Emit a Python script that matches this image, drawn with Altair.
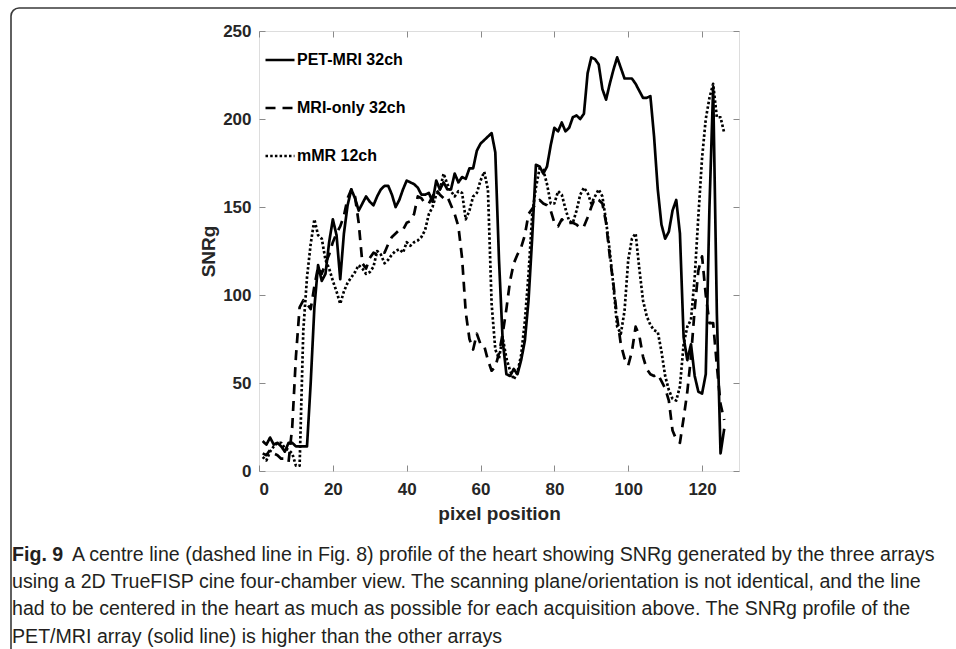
import altair as alt
import pandas as pd

# ---------------- data ----------------
x_pos = list(range(1, 127))

pet_mri_32ch = [17, 15, 19, 15, 16, 14, 11, 16, 16, 14,
                14, 14, 14, 50, 93, 117, 108, 112, 130, 143,
                134, 109, 135, 151, 160, 155, 148, 152, 156, 153,
                151, 156, 160, 162, 162, 157, 150, 154, 160, 165,
                164, 163, 161, 157, 157, 158, 153, 165, 160, 164,
                160, 160, 169, 164, 167, 166, 172, 172, 182, 186,
                188, 190, 192, 181, 120, 74, 55, 54, 58, 55,
                63, 74, 97, 133, 174, 173, 169, 173, 185, 195,
                193, 198, 193, 195, 201, 202, 200, 203, 226, 235,
                234, 231, 217, 211, 220, 228, 235, 229, 223, 223,
                223, 220, 216, 212, 212, 213, 190, 160, 140, 132,
                136, 148, 154, 135, 76, 63, 72, 54, 45, 44,
                55, 150, 218, 90, 10, 24]

mri_only_32ch = [10, 9, 12, 10, 9, 7, 7, 5, 25, 65,
                 93, 97, 95, 92, 105, 116, 112, 118, 123, 130,
                 135, 139, 145, 155, 160, 156, 141, 118, 115, 121,
                 124, 123, 124, 124, 129, 133, 135, 137, 137, 141,
                 142, 146, 156, 155, 152, 152, 156, 160, 157, 155,
                 156, 151, 146, 139, 121, 90, 75, 69, 78, 72,
                 71, 63, 57, 59, 67, 78, 92, 108, 118, 123,
                 127, 134, 146, 149, 152, 154, 152, 151, 148, 141,
                 139, 143, 141, 141, 141, 140, 138, 139, 144, 150,
                 155, 154, 152, 141, 122, 106, 87, 72, 64, 60,
                 68, 82, 77, 65, 58, 55, 54, 55, 51, 47,
                 40, 23, 18, 16, 30, 45, 65, 92, 114, 122,
                 100, 84, 84, 60, 38, 29]

mmr_12ch = [8, 6, 11, 14, 16, 16, 13, 12, 10, 3,
            3, 80, 110, 129, 143, 134, 132, 120, 115, 108,
            102, 95, 102, 107, 110, 113, 117, 115, 112, 113,
            116, 125, 123, 118, 120, 123, 125, 126, 124, 130,
            128, 130, 131, 133, 137, 146, 150, 157, 160, 169,
            163, 159, 156, 159, 158, 143, 148, 156, 158, 165,
            170, 160, 95, 69, 64, 76, 64, 57, 52, 56,
            66, 85, 112, 146, 161, 172, 171, 163, 152, 152,
            159, 157, 149, 142, 141, 148, 157, 161, 158, 152,
            156, 160, 156, 142, 125, 105, 82, 78, 91, 120,
            132, 135, 115, 97, 88, 83, 80, 79, 68, 54,
            46, 41, 40, 48, 72, 82, 86, 110, 145, 178,
            200, 212, 220, 201, 201, 192]

series_names = ["PET-MRI 32ch", "MRI-only 32ch", "mMR 12ch"]
x_ticks = [0, 20, 40, 60, 80, 100, 120]
y_ticks = [0, 50, 100, 150, 200, 250]

caption_bold = "Fig. 9"
caption_lines = [
    "\u200b" + "\u00a0" * 11 + "A centre line (dashed line in Fig. 8) profile of the heart showing SNRg generated by the three arrays",
    "using a 2D TrueFISP cine four-chamber view. The scanning plane/orientation is not identical, and the line",
    "had to be centered in the heart as much as possible for each acquisition above. The SNRg profile of the",
    "PET/MRI array (solid line) is higher than the other arrays",
]

rows = []
for name, vals in zip(series_names, [pet_mri_32ch, mri_only_32ch, mmr_12ch]):
    for xv, yv in zip(x_pos, vals):
        rows.append({"pos": xv, "snr": yv, "series": name})
df = pd.DataFrame(rows)

# ---------------- chart ----------------
W, H = 480, 440
AX_FONT = "Liberation Sans"
CAP_FONT = "Liberation Sans"
CAP_SIZE = 19.6
TICK_COLOR = "#8a8a8a"

xs = alt.Scale(domain=[0, 130], nice=False, zero=False)
ys = alt.Scale(domain=[0, 250], nice=False)

base = alt.Chart(df)

lines = base.mark_line(color="black", strokeWidth=2.7, strokeCap="butt", strokeJoin="round").encode(
    x=alt.X("pos:Q", scale=xs, axis=alt.Axis(
        values=x_ticks, title="pixel position", ticks=False, domain=False, grid=False,
        labelFont=AX_FONT, labelFontSize=17, labelFontWeight="bold", labelColor="#262626",
        labelPadding=10, titleFont=AX_FONT, titleFontSize=19, titleFontWeight="bold",
        titleColor="#262626", titlePadding=7)),
    y=alt.Y("snr:Q", scale=ys, axis=alt.Axis(
        values=y_ticks, title="SNRg", ticks=False, domain=False, grid=False,
        labelFont=AX_FONT, labelFontSize=17, labelFontWeight="bold", labelColor="#262626",
        labelPadding=8, titleFont=AX_FONT, titleFontSize=19, titleFontWeight="bold",
        titleColor="#262626", titlePadding=4)),
    strokeDash=alt.StrokeDash("series:N", scale=alt.Scale(
        domain=series_names, range=[[1, 0], [10, 7], [2.5, 2.2]]),
        legend=alt.Legend(
            title=None, orient="none", legendX=5, legendY=13,
            symbolType="stroke", symbolSize=841, symbolStrokeWidth=2.7,
            symbolStrokeColor="black", labelFont=AX_FONT, labelFontSize=16,
            labelFontWeight="bold", labelColor="black", labelOffset=1,
            rowPadding=24)),
)

# inward ticks on all four edges (tick-only axes moved across the plot)
ticks_bl = base.mark_point(opacity=0, size=0).encode(
    x=alt.X("pos:Q", scale=xs, axis=alt.Axis(
        orient="top", offset=-H, values=x_ticks, labels=False, domain=False, grid=False,
        ticks=True, tickSize=6, tickColor=TICK_COLOR, title=None)),
    y=alt.Y("snr:Q", scale=ys, axis=alt.Axis(
        orient="right", offset=-W, values=y_ticks, labels=False, domain=False, grid=False,
        ticks=True, tickSize=6, tickColor=TICK_COLOR, title=None)),
)
ticks_tr = base.mark_point(opacity=0, size=0).encode(
    x=alt.X("pos:Q", scale=xs, axis=alt.Axis(
        orient="bottom", offset=-H, values=x_ticks, labels=False, domain=False, grid=False,
        ticks=True, tickSize=6, tickColor=TICK_COLOR, title=None)),
    y=alt.Y("snr:Q", scale=ys, axis=alt.Axis(
        orient="left", offset=-W, values=y_ticks, labels=False, domain=False, grid=False,
        ticks=True, tickSize=6, tickColor=TICK_COLOR, title=None)),
)

# figure frame (decoration)
frame = alt.Chart(alt.Data(values=[{"f": 1}])).mark_rect(
    fillOpacity=0, stroke="#3a3a3a", strokeWidth=1.6, cornerRadius=8
).encode(
    x=alt.value(-248), x2=alt.value(760), y=alt.value(-23), y2=alt.value(660)
)

chart = alt.layer(frame, ticks_bl, ticks_tr, lines).resolve_axis(
    x="independent", y="independent"
).properties(
    width=W, height=H,
    autosize=alt.AutoSizeParams(type="none"),
    padding={"left": 259, "top": 31, "right": 956 - 259 - W, "bottom": 649 - 31 - H},
    title=alt.TitleParams(
        text=caption_bold, subtitle=caption_lines,
        orient="bottom", anchor="start", frame="group", dx=-247, offset=-146,
        font=CAP_FONT, fontSize=CAP_SIZE, fontWeight="bold", color="#231f20",
        subtitleFont=CAP_FONT, subtitleFontSize=CAP_SIZE, subtitleFontWeight="normal",
        subtitleColor="#231f20", subtitleLineHeight=27.3, subtitlePadding=-CAP_SIZE,
    ),
).configure_view(stroke="#8a8a8a", strokeWidth=1.2).configure(background="white")

chart.save("out.html", embed_options={"renderer": "svg", "actions": False})
